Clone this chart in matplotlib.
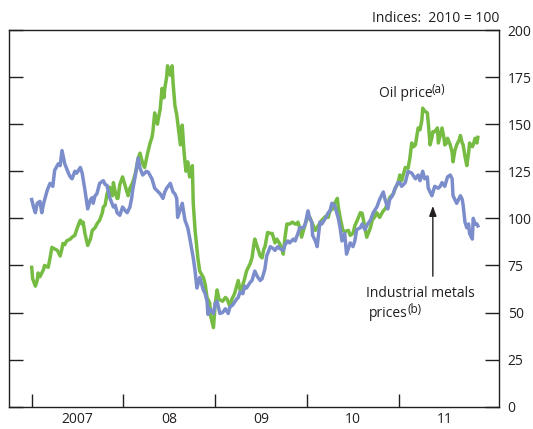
import matplotlib
matplotlib.use("Agg")
import matplotlib.pyplot as plt
import numpy as np

plt.rcParams['font.family'] = ['Open Sans', 'DejaVu Sans']

# ---- data (time in years after 1 Jan 2007, index 2010 = 100) ----
metals_t = [0.00, 0.02, 0.04, 0.06, 0.09, 0.11, 0.13, 0.17, 0.20, 0.23, 0.25, 0.29, 0.31, 0.33,
            0.36, 0.40, 0.42, 0.44, 0.47, 0.49, 0.53, 0.55, 0.58, 0.61, 0.64, 0.66, 0.67, 0.69,
            0.71, 0.74, 0.78, 0.80, 0.82, 0.85, 0.89, 0.91, 0.93, 0.96, 0.99, 1.02, 1.04, 1.07,
            1.09, 1.10, 1.13, 1.16, 1.18, 1.21, 1.25, 1.27, 1.31, 1.34, 1.38, 1.40, 1.43, 1.45,
            1.47, 1.51, 1.54, 1.56, 1.58, 1.59, 1.62, 1.64, 1.67, 1.70, 1.72, 1.74, 1.76, 1.78,
            1.80, 1.83, 1.87, 1.89, 1.91, 1.92, 1.94, 1.98, 2.00, 2.02, 2.05, 2.08, 2.11, 2.14,
            2.16, 2.19, 2.23, 2.25, 2.27, 2.30, 2.32, 2.34, 2.38, 2.40, 2.43, 2.46, 2.49, 2.51,
            2.54, 2.56, 2.60, 2.63, 2.65, 2.68, 2.70, 2.74, 2.76, 2.79, 2.81, 2.85, 2.87, 2.90,
            2.92, 2.96, 2.98, 3.01, 3.03, 3.05, 3.06, 3.09, 3.11, 3.14, 3.16, 3.20, 3.23, 3.25,
            3.27, 3.30, 3.34, 3.36, 3.38, 3.41, 3.43, 3.47, 3.50, 3.52, 3.54, 3.58, 3.60, 3.63,
            3.66, 3.69, 3.72, 3.76, 3.79, 3.83, 3.85, 3.88, 3.90, 3.93, 3.96, 3.99, 4.01, 4.03,
            4.07, 4.10, 4.14, 4.18, 4.21, 4.23, 4.26, 4.28, 4.31, 4.32, 4.34, 4.36, 4.39, 4.43,
            4.45, 4.47, 4.50, 4.53, 4.56, 4.58, 4.59, 4.61, 4.63, 4.67, 4.69, 4.70, 4.72, 4.74,
            4.76, 4.77, 4.80, 4.81, 4.83, 4.85, 4.86]
metals_v = [110, 106, 103, 108, 109, 103, 108, 115, 118.6, 117, 125.5, 129, 128, 136,
            129, 124, 122, 121, 125, 124, 127, 124, 115, 105, 110, 111, 108, 112,
            113, 118.6, 120, 118, 117.5, 111, 106, 107, 103, 101.6, 106, 104, 103, 106,
            111, 115, 123, 132, 126.6, 123, 125, 124.5, 121, 116, 114, 113, 110.6, 114,
            116, 118.6, 114, 113, 110.6, 100.5, 105, 108, 99, 95, 90, 84.6, 79, 72,
            63, 68.6, 62, 60, 56, 49, 52, 49.5, 55, 56, 49.5, 50, 52, 49.5,
            53, 54, 57, 58, 61, 60, 64, 63, 66, 67, 72, 69, 67, 68,
            73, 80, 85, 84, 83, 85, 84, 83, 86, 88, 87, 89, 88, 92,
            95, 95, 97, 104, 100, 98, 91, 88, 85, 98, 97, 100, 103, 104,
            108, 107, 100, 95, 88, 92, 81, 87, 85, 88, 94, 95, 97, 94,
            97, 99, 103, 106, 110, 114, 110, 105, 110, 112, 116, 119, 119, 117,
            119, 125, 124, 121, 123, 120, 125, 121, 122, 116, 114, 112, 117, 116,
            117, 119, 117, 122, 123, 121, 112, 110, 108, 112, 110, 107, 98, 95,
            97, 92, 89, 100, 97, 97, 96]

oil_t = [0.00, 0.01, 0.04, 0.06, 0.07, 0.09, 0.11, 0.13, 0.14, 0.18, 0.20, 0.22, 0.24, 0.28,
         0.31, 0.33, 0.34, 0.36, 0.38, 0.42, 0.44, 0.47, 0.49, 0.52, 0.53, 0.55, 0.56, 0.58,
         0.61, 0.64, 0.66, 0.69, 0.71, 0.74, 0.77, 0.78, 0.80, 0.82, 0.85, 0.88, 0.89, 0.91,
         0.93, 0.94, 0.96, 0.99, 1.02, 1.05, 1.07, 1.10, 1.13, 1.16, 1.18, 1.21, 1.23, 1.26,
         1.29, 1.31, 1.32, 1.34, 1.37, 1.38, 1.40, 1.42, 1.44, 1.45, 1.47, 1.48, 1.51, 1.53,
         1.54, 1.56, 1.58, 1.59, 1.62, 1.64, 1.66, 1.68, 1.70, 1.72, 1.75, 1.76, 1.78, 1.81,
         1.83, 1.87, 1.89, 1.91, 1.94, 1.95, 1.98, 2.00, 2.02, 2.04, 2.08, 2.11, 2.13, 2.16,
         2.18, 2.21, 2.25, 2.27, 2.29, 2.32, 2.34, 2.38, 2.40, 2.42, 2.43, 2.45, 2.46, 2.49,
         2.51, 2.53, 2.54, 2.56, 2.57, 2.60, 2.62, 2.65, 2.67, 2.70, 2.73, 2.74, 2.76, 2.78,
         2.81, 2.84, 2.87, 2.89, 2.90, 2.92, 2.94, 2.98, 3.01, 3.03, 3.05, 3.09, 3.12, 3.16,
         3.20, 3.23, 3.25, 3.28, 3.30, 3.33, 3.34, 3.36, 3.39, 3.41, 3.45, 3.47, 3.50, 3.52,
         3.56, 3.58, 3.60, 3.63, 3.65, 3.69, 3.71, 3.74, 3.76, 3.79, 3.83, 3.85, 3.88, 3.90,
         3.94, 3.96, 3.99, 4.01, 4.03, 4.07, 4.10, 4.12, 4.14, 4.16, 4.18, 4.21, 4.23, 4.25,
         4.26, 4.28, 4.31, 4.32, 4.34, 4.36, 4.37, 4.39, 4.42, 4.43, 4.45, 4.47, 4.49, 4.50,
         4.52, 4.53, 4.56, 4.58, 4.59, 4.61, 4.63, 4.66, 4.67, 4.69, 4.70, 4.72, 4.74, 4.76,
         4.77, 4.80, 4.81, 4.83, 4.85, 4.86]
oil_v = [74, 68, 64, 67, 71, 69, 71, 73, 75, 74, 79, 84.6, 84, 83,
         80, 84, 86.7, 86, 88, 89, 90, 91, 94, 98, 99, 97, 98, 92,
         85.6, 89, 93.6, 95, 97, 99, 103, 106, 107, 113, 116.5, 112, 119, 114,
         110.6, 110.6, 118, 122, 117, 112, 116, 119, 124, 132, 134.6, 129, 127, 134,
         140, 143, 146, 156, 150, 153, 158, 169, 164, 169, 175, 181, 176, 181,
         172, 160, 155, 151, 139, 149.5, 135, 125, 130, 122, 128, 108, 93.6, 79,
         72, 68.6, 65, 58, 55, 48, 42, 55, 62, 57, 56, 58, 57, 53,
         57, 60, 67, 62, 63, 68, 72, 76, 79, 86, 89, 86, 84.6, 80,
         79, 84, 84.6, 90, 92.5, 92, 92, 87, 89, 86.7, 83, 81, 90, 97,
         97, 98, 97, 97, 98, 95, 90, 97, 101, 100.5, 98, 93.6, 96, 99,
         101, 100.5, 104, 105, 108, 110.6, 106, 100.5, 93.6, 93, 93.6, 91, 92, 96,
         100.5, 103, 102.7, 95, 90, 95, 99, 101, 103, 100.5, 104, 105, 108, 111,
         113, 116, 118.6, 123, 120, 127, 126.6, 132, 140, 138, 139, 148, 147, 152,
         158.5, 157, 156, 151, 139, 143, 146, 146, 148, 140, 144, 148, 143, 139,
         140, 142.5, 139, 135, 130, 136, 139, 142, 144, 140, 139, 133, 128, 135,
         140, 138, 139, 142.5, 140, 143]

year_labels = ['2007', '08', '09', '10', '11']
y_ticks = [0, 25, 50, 75, 100, 125, 150, 175, 200]

START = 2007
GREEN = '#76BC43'
BLUE = '#7C8DCB'
INK = '#231F20'

fig = plt.figure(figsize=(5.33, 4.29), dpi=100)
ax = fig.add_axes([9.3 / 533, 22.3 / 429, 490 / 533, 376.7 / 429])

ax.plot(START + np.array(oil_t), oil_v, color=GREEN, lw=2.5, solid_joinstyle='round')
ax.plot(START + np.array(metals_t), metals_v, color=BLUE, lw=2.5, solid_joinstyle='round')

ax.set_xlim(2006.756, 2012.094)
ax.set_ylim(0, 200)

for s in ax.spines.values():
    s.set_linewidth(1.0)
    s.set_color(INK)

# y axis: ticks on both sides, labels on right
ax.set_yticks(y_ticks)
ax.tick_params(axis='y', which='major', direction='in', length=10, width=1.0,
               left=True, right=True, labelleft=False, labelright=True,
               labelsize=10, pad=6, colors=INK)

# x axis: year-boundary ticks, labels centred in year
years = np.arange(len(year_labels)) + START
ax.set_xticks(years)
ax.set_xticklabels([])
ax.set_xticks(years + 0.5, minor=True)
ax.set_xticklabels(year_labels, minor=True)
ax.tick_params(axis='x', which='major', direction='in', length=9.5, width=1.0,
               bottom=True, top=False, colors=INK)
ax.tick_params(axis='x', which='minor', length=0, labelsize=10, pad=4, colors=INK)

fig.text(499.3 / 533, (429 - 22) / 429, 'Indices:  2010 = 100', ha='right',
         va='baseline', fontsize=10, color=INK)


def label_with_sup(x, y, main, sup):
    t = ax.text(x, y, main, ha='left', va='baseline', fontsize=10, color=INK)
    ax.annotate(sup, xy=(1, 0), xycoords=t, xytext=(-0.5, 3.5),
                textcoords='offset points', ha='left', va='bottom',
                fontsize=8.5, color=INK)
    return t


label_with_sup(2010.78, 164.4, 'Oil price', '(a)')
ax.text(2010.64, 58.5, 'Industrial metals', ha='left', va='baseline',
        fontsize=10, color=INK)
label_with_sup(2010.675, 47.5, 'prices', '(b)')
ax.annotate('', xy=(2011.37, 106.6), xytext=(2011.37, 69.3),
            arrowprops=dict(arrowstyle='-|>,head_length=0.6,head_width=0.22',
                            color=INK, lw=1.0, shrinkA=0, shrinkB=0))

fig.savefig('out.png', dpi=100)
